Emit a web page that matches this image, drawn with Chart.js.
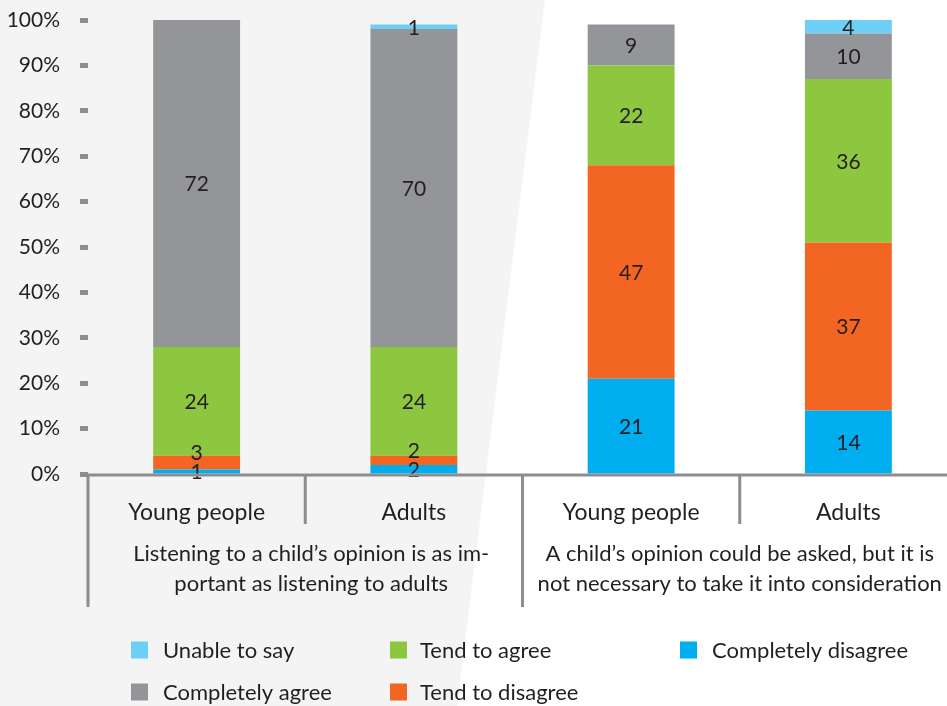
<!DOCTYPE html>
<html>
<head>
<meta charset="utf-8">
<script src="https://cdn.jsdelivr.net/npm/chart.js@4/dist/chart.umd.min.js"></script>
<style>
  html, body { margin: 0; padding: 0; background: #ffffff; overflow: hidden; }
  #wrap { position: relative; width: 947px; height: 706px; overflow: hidden; }
  #c { position: absolute; left: 0; top: 0; }
</style>
</head>
<body>
<div id="wrap"><canvas id="c" width="957" height="706"></canvas></div>
<script>
// ---- data ----
const categories = ['Young people', 'Adults', 'Young people', 'Adults'];
const groupLabels = [
  ['Listening to a child\u2019s opinion is as im-', 'portant as listening to adults'],
  ['A child\u2019s opinion could be asked, but it is', 'not necessary to take it into consideration']
];
const seriesNames = ['Completely disagree', 'Tend to disagree', 'Tend to agree', 'Completely agree', 'Unable to say'];
const completelyDisagree = [1, 2, 21, 14];
const tendToDisagree = [3, 2, 47, 37];
const tendToAgree = [24, 24, 22, 36];
const completelyAgree = [72, 70, 9, 10];
const unableToSay = [0, 1, 0, 4];
const yTickValues = [0, 10, 20, 30, 40, 50, 60, 70, 80, 90, 100];

// ---- styles ----
const seriesColors = ['#00aeef', '#f26522', '#8dc63f', '#939598', '#6dcff6'];
const FONT = 'Lato, "Open Sans", sans-serif';
const TEXT = '#231f20';
const AXIS = '#8c8d90';

const seriesValues = [completelyDisagree, tendToDisagree, tendToAgree, completelyAgree, unableToSay];

const bgPlugin = {
  id: 'bg',
  beforeDraw(chart) {
    const ctx = chart.ctx;
    ctx.save();
    ctx.fillStyle = '#ffffff';
    ctx.fillRect(0, 0, chart.width, chart.height);
    ctx.fillStyle = '#f4f4f4';
    ctx.beginPath();
    ctx.moveTo(0, 0);
    ctx.lineTo(545, 0);
    ctx.lineTo(457, chart.height);
    ctx.lineTo(0, chart.height);
    ctx.closePath();
    ctx.fill();
    ctx.restore();
  }
};

const decoPlugin = {
  id: 'deco',
  afterDatasetsDraw(chart) {
    const ctx = chart.ctx;
    const area = chart.chartArea;
    const n = categories.length;
    const step = (area.right - area.left) / n;
    ctx.save();

    // data labels, stacked bottom-up with overlap avoidance
    ctx.font = '21px ' + FONT;
    ctx.fillStyle = TEXT;
    ctx.textAlign = 'center';
    ctx.textBaseline = 'middle';
    for (let i = 0; i < n; i++) {
      let prev = Infinity;
      chart.data.datasets.forEach((ds, di) => {
        const v = ds.data[i];
        if (!v) return;
        const el = chart.getDatasetMeta(di).data[i];
        const top = Math.max(el.y, area.top);
        let cy = (top + el.base) / 2;
        if (cy > prev - 19) cy = prev - 19;
        prev = cy;
        ctx.fillText(String(v), el.x, cy + 1);
      });
    }

    // axis line
    ctx.strokeStyle = AXIS;
    ctx.lineWidth = 3;
    ctx.beginPath();
    ctx.moveTo(80, area.bottom + 1);
    ctx.lineTo(chart.width, area.bottom + 1);
    ctx.stroke();

    // dividers
    for (let i = 0; i < n; i++) {
      const bx = area.left + step * i;
      const long = i % 2 === 0;
      ctx.beginPath();
      ctx.moveTo(bx, area.bottom);
      ctx.lineTo(bx, area.bottom + (long ? 133 : 50));
      ctx.stroke();
    }

    // group labels
    ctx.fillStyle = TEXT;
    ctx.font = '22px ' + FONT;
    groupLabels.forEach((lines, g) => {
      const cx = area.left + step * (2 * g + 1) + (g === 0 ? 6 : 0);
      lines.forEach((t, li) => {
        ctx.fillText(t, cx, area.bottom + 80 + li * 30);
      });
    });

    // legend (column-major, 2 rows, top of stack first)
    const order = [4, 3, 2, 1, 0];
    const colSquare = [131, 390, 680];
    const colText = [163, 420, 712];
    const rowY = [650, 692];
    ctx.textAlign = 'left';
    order.forEach((si, k) => {
      const col = Math.floor(k / 2), row = k % 2;
      ctx.fillStyle = seriesColors[si];
      ctx.fillRect(colSquare[col], rowY[row] - 8.5, 17, 17);
      ctx.fillStyle = TEXT;
      ctx.fillText(seriesNames[si], colText[col], rowY[row] + 1);
    });

    ctx.restore();
  }
};

new Chart(document.getElementById('c'), {
  type: 'bar',
  data: {
    labels: categories,
    datasets: seriesNames.map((name, i) => ({
      label: name,
      data: seriesValues[i],
      backgroundColor: seriesColors[i],
      borderWidth: 0,
      barPercentage: 0.4,
      categoryPercentage: 1.0
    }))
  },
  options: {
    responsive: false,
    animation: false,
    devicePixelRatio: 1,
    layout: { padding: { top: 20, right: 0, left: 0, bottom: 0 } },
    plugins: { legend: { display: false }, tooltip: { enabled: false } },
    scales: {
      x: {
        stacked: true,
        grid: { display: false, drawTicks: false },
        border: { display: false },
        ticks: { font: { family: FONT, size: 23 }, color: TEXT, padding: 25, maxRotation: 0 },
        afterFit(scale) { scale.height = 232; scale.paddingLeft = 0; scale.paddingRight = 0; }
      },
      y: {
        stacked: true,
        min: 0,
        max: 100,
        afterBuildTicks(scale) { scale.ticks = yTickValues.map(v => ({ value: v })); },
        ticks: {
          font: { family: FONT, size: 21 },
          color: TEXT,
          padding: 20,
          callback: v => v + '%'
        },
        grid: {
          drawOnChartArea: false,
          drawTicks: true,
          tickLength: 8,
          tickWidth: 5,
          tickColor: AXIS
        },
        border: { display: false },
        afterFit(scale) { scale.width = 88; scale.paddingTop = 0; scale.paddingBottom = 0; }
      }
    }
  },
  plugins: [bgPlugin, decoPlugin]
});
</script>
</body>
</html>
